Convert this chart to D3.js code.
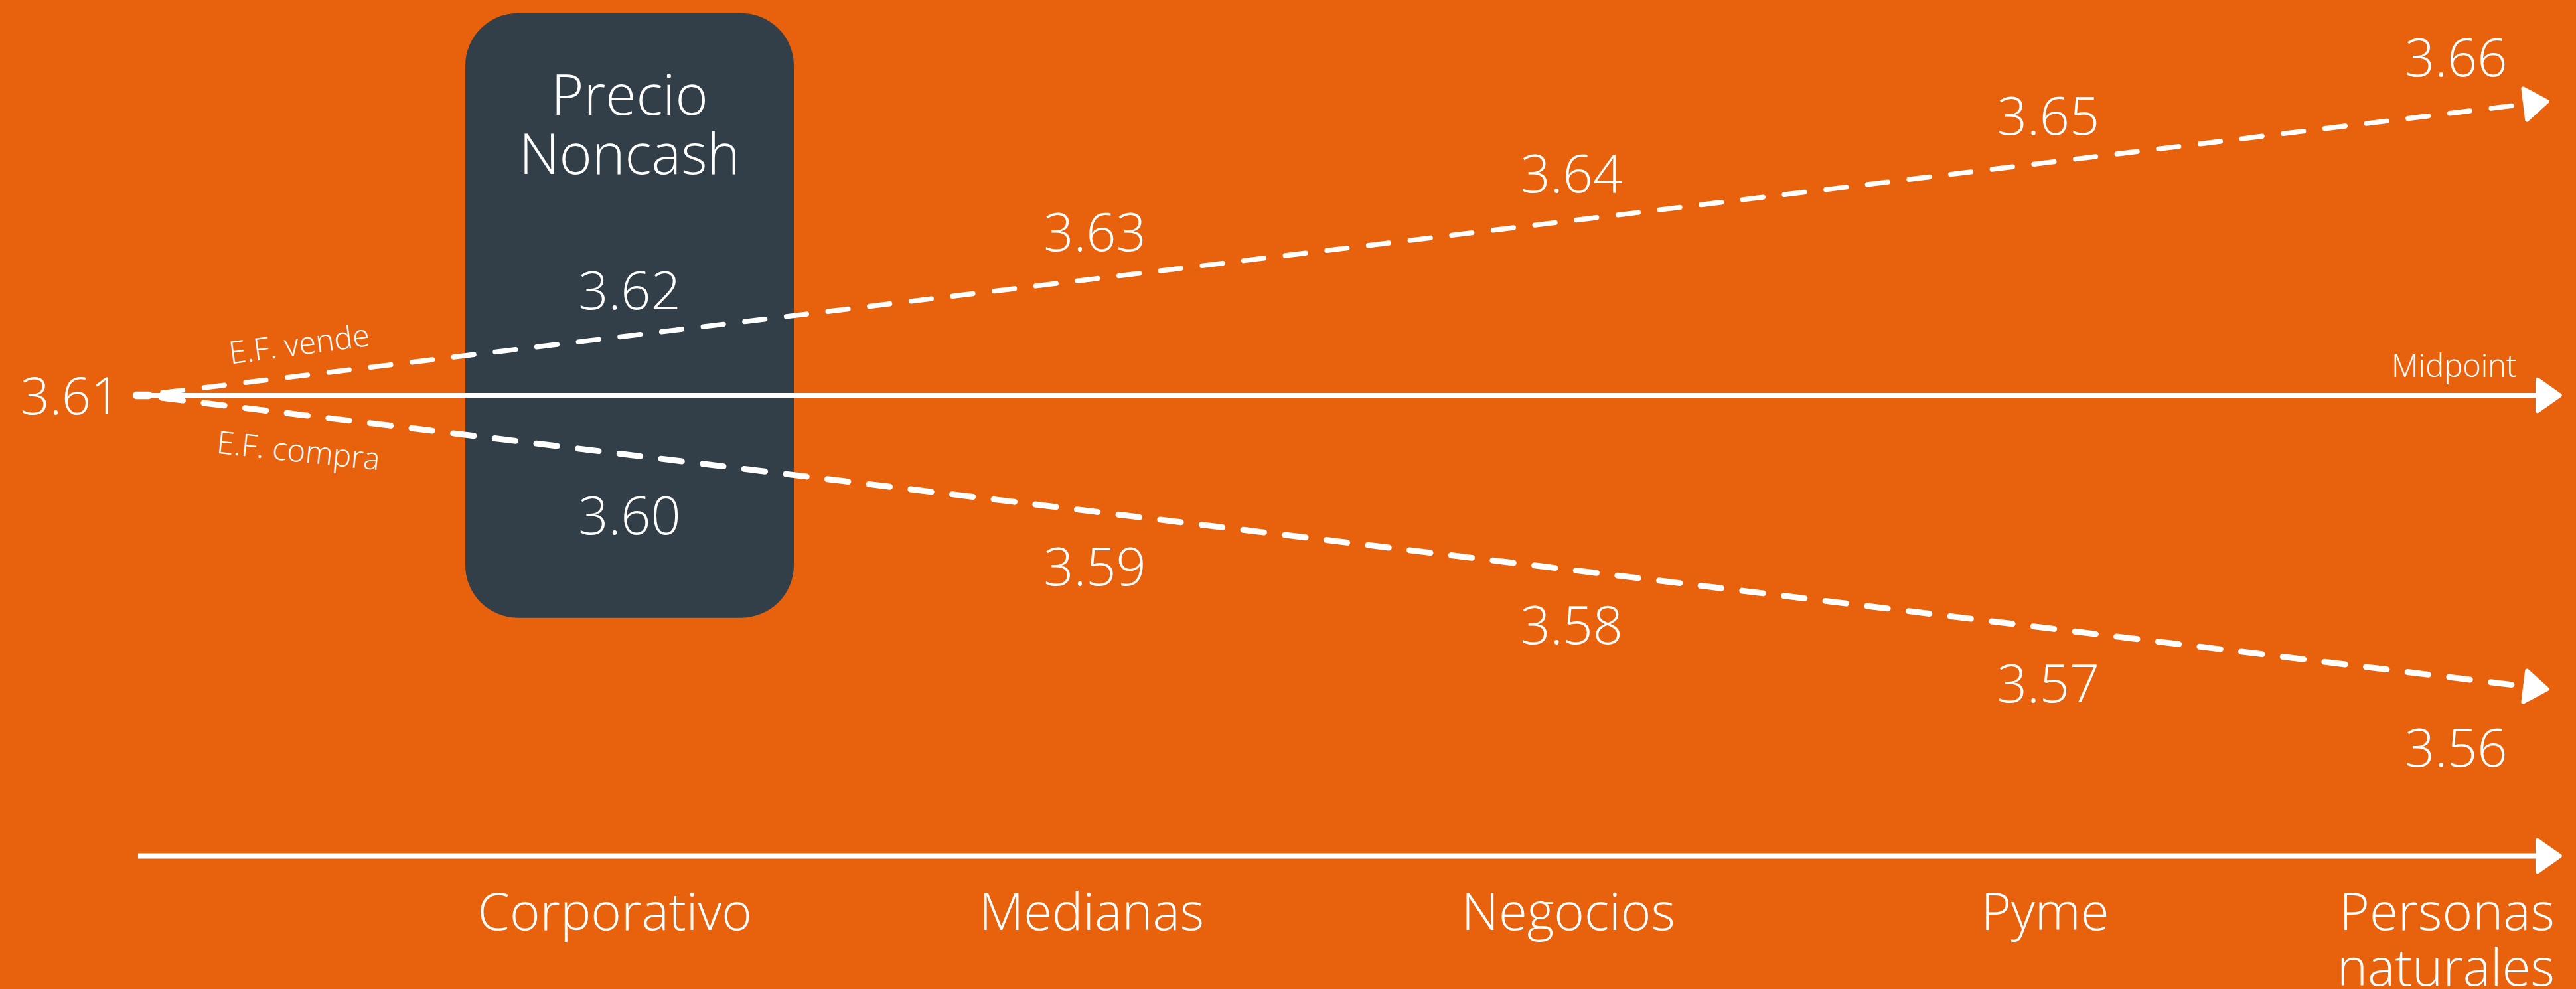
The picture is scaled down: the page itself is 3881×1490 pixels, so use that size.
<!DOCTYPE html>
<html>
<head>
<meta charset="utf-8">
<script src="https://cdn.jsdelivr.net/npm/d3@7/dist/d3.min.js"></script>
<style>
html,body{margin:0;padding:0;background:#E8610C;overflow:hidden;}
svg{display:block;}
text{font-family:"Open Sans","Noto Sans",sans-serif;font-weight:300;fill:#fff;}
</style>
</head>
<body>
<svg id="chart" width="3881" height="1490" viewBox="0 0 1568 602"></svg>
<script>
// ---- data ----
const categories = ["Corporativo", "Medianas", "Negocios", "Pyme", "Personas naturales"];
const origin = 3.61;
const vende = [3.62, 3.63, 3.64, 3.65, 3.66];   // E.F. vende
const compra = [3.60, 3.59, 3.58, 3.57, 3.56];  // E.F. compra
const midpoint = [3.61, 3.61, 3.61, 3.61, 3.61];
const highlight = ["Precio", "Noncash"];
const seriesLabels = ["E.F. vende", "E.F. compra", "Midpoint"];

const svg = d3.select("#chart");
const W = 1568, H = 602;
svg.append("rect").attr("width", W).attr("height", H).attr("fill", "#E8610C");

const last = categories.length;
const x = d3.scaleLinear().domain([0, last]).range([86, 1537]);
const y = d3.scaleLinear().domain([3.56, 3.66]).range([417.8, 63.4]);
const axisY = 521;
const fmt = d3.format(".2f");

// rounded arrow marker
const defs = svg.append("defs");
defs.append("marker")
  .attr("id", "arrow")
  .attr("viewBox", "-2 -12 18 24")
  .attr("refX", 0).attr("refY", 0)
  .attr("markerUnits", "userSpaceOnUse")
  .attr("markerWidth", 18).attr("markerHeight", 24)
  .attr("orient", "auto")
  .append("path")
  .attr("d", "M0,-9.6 L13.6,0 L0,9.6 Z")
  .attr("fill", "#fff").attr("stroke", "#fff")
  .attr("stroke-width", 2.4).attr("stroke-linejoin", "round");

// highlight box around first category
const bx = x(1) + 7;
svg.append("rect")
  .attr("x", bx - 100).attr("y", 8)
  .attr("width", 200).attr("height", 368)
  .attr("rx", 32).attr("ry", 32)
  .attr("fill", "#333F48");
const hlText = svg.append("text")
  .attr("text-anchor", "middle")
  .attr("font-size", 34);
highlight.forEach((d, i) => {
  hlText.append("tspan").attr("x", bx).attr("y", 70 + i * 36).text(d);
});

// series lines
const toPts = arr => [[0, origin]].concat(arr.map((v, i) => [i + 1, v]));
const line = d3.line().x(d => x(d[0])).y(d => y(d[1]));

// midpoint (solid)
svg.append("path")
  .datum(toPts(midpoint).map((d, i, a) => i === a.length - 1 ? [x.invert(1544.6), d[1]] : d))
  .attr("d", line).attr("fill", "none")
  .attr("stroke", "#fff").attr("stroke-width", 2.8)
  .attr("marker-end", "url(#arrow)");

svg.append("path").datum(toPts(vende))
  .attr("d", line).attr("fill", "none")
  .attr("stroke", "#fff").attr("stroke-width", 3)
  .attr("stroke-dasharray", "12.5 13").attr("stroke-dashoffset", 12.5)
  .attr("stroke-linecap", "round")
  .attr("marker-end", "url(#arrow)");

svg.append("path").datum(toPts(compra))
  .attr("d", line).attr("fill", "none")
  .attr("stroke", "#fff").attr("stroke-width", 3.6)
  .attr("stroke-dasharray", "12.8 12.7").attr("stroke-dashoffset", 12.8)
  .attr("stroke-linecap", "round")
  .attr("marker-end", "url(#arrow)");

// origin mark
svg.append("line")
  .attr("x1", x(0) - 3).attr("x2", x(0) + 4.5)
  .attr("y1", y(origin)).attr("y2", y(origin))
  .attr("stroke", "#fff").attr("stroke-width", 4.6).attr("stroke-linecap", "round");

// value labels
const lx = i => (i + 1 === last ? x(i + 1) - 42 : (i === 0 ? bx : x(i + 1)));
svg.selectAll("text.vende").data(vende).join("text")
  .attr("class", "vende")
  .attr("x", (d, i) => lx(i))
  .attr("y", d => y(d) - 17)
  .attr("text-anchor", "middle").attr("font-size", 32)
  .text(d => fmt(d));
svg.selectAll("text.compra").data(compra).join("text")
  .attr("class", "compra")
  .attr("x", (d, i) => lx(i))
  .attr("y", (d, i) => y(d) + (i === 0 ? 49 : (i + 1 === last ? 49 : 45)))
  .attr("text-anchor", "middle").attr("font-size", 32)
  .text(d => fmt(d));

svg.append("text")
  .attr("x", 73).attr("y", y(origin) + 11.5)
  .attr("text-anchor", "end").attr("font-size", 31)
  .text(fmt(origin));

svg.append("text")
  .attr("x", 1532).attr("y", y(origin) - 11)
  .attr("text-anchor", "end").attr("font-size", 19)
  .text(seriesLabels[2]);

svg.append("text")
  .attr("transform", "translate(183,216) rotate(-7.5)")
  .attr("text-anchor", "middle").attr("font-size", 19)
  .text(seriesLabels[0]);
svg.append("text")
  .attr("transform", "translate(181,281) rotate(6)")
  .attr("text-anchor", "middle").attr("font-size", 19)
  .text(seriesLabels[1]);

// category axis
svg.append("line")
  .attr("x1", 84).attr("x2", 1544.6)
  .attr("y1", axisY).attr("y2", axisY)
  .attr("stroke", "#fff").attr("stroke-width", 3.2)
  .attr("marker-end", "url(#arrow)");

const gx = svg.append("g");
categories.forEach((c, i) => {
  const isLast = i + 1 === last;
  const px = isLast ? x(i + 1) + 18 : x(i + 1) - 2;
  const t = gx.append("text")
    .attr("y", 566)
    .attr("text-anchor", isLast ? "end" : "middle")
    .attr("font-size", 31.5);
  const parts = isLast ? c.split(" ") : [c];
  parts.forEach((p, j) => {
    t.append("tspan")
      .attr("x", px)
      .attr("dy", j === 0 ? 0 : 34)
      .text(p);
  });
});
</script>
</body>
</html>
